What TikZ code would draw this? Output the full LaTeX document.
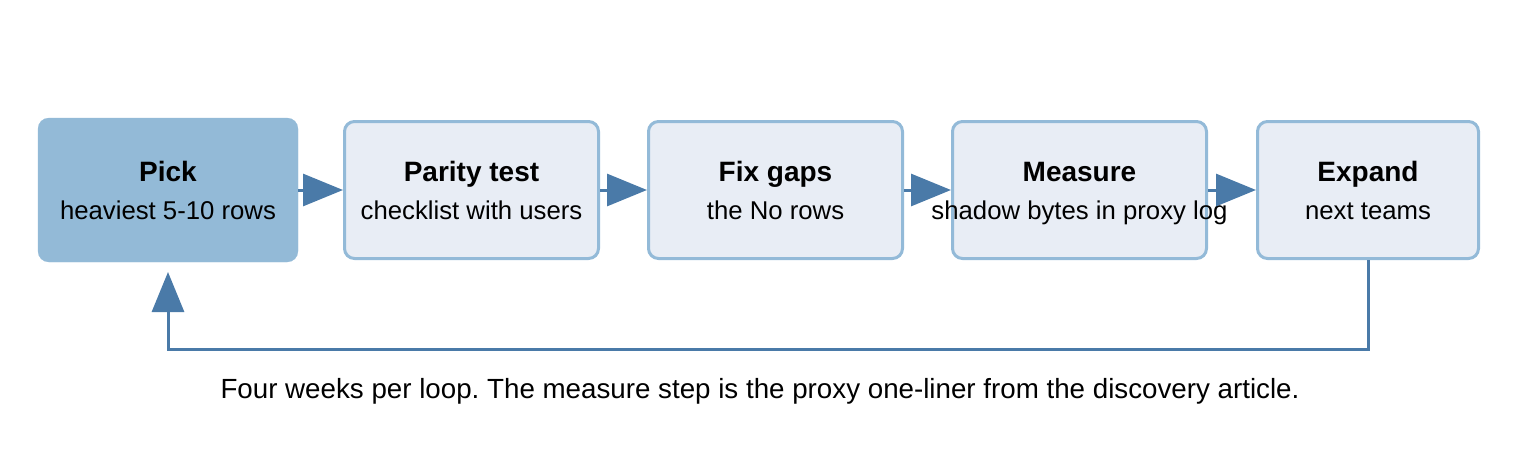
\documentclass[tikz,border=0pt]{standalone}
\usepackage{fontspec}
\setmainfont{Liberation Sans}
\usetikzlibrary{arrows.meta}
\frenchspacing
\definecolor{boxborder}{HTML}{93BAD8}
\definecolor{boxfill}{HTML}{E8EDF5}
\definecolor{pickfill}{HTML}{93BAD7}
\definecolor{arrowc}{HTML}{4A7AA8}
\tikzset{
  stepbox/.style={draw=boxborder, fill=boxfill, line width=2.25pt, rounded corners=7.5pt, minimum height=102.75pt, inner sep=0pt},
  pickbox/.style={fill=pickfill, draw=pickfill, line width=0.1pt, rounded corners=8pt, minimum width=195pt, minimum height=108pt, inner sep=0pt},
  ttl/.style={font=\fontsize{21}{24}\selectfont\bfseries, inner sep=0pt, anchor=base},
  sub/.style={font=\fontsize{19.3}{22}\selectfont, inner sep=0pt, anchor=base},
  captxt/.style={font=\fontsize{20.8}{24}\selectfont, inner sep=0pt, anchor=base},
  flow/.style={draw=arrowc, line width=2.25pt, -{Triangle[length=30pt,width=24pt]}}
}
\begin{document}
\begin{tikzpicture}[x=0.75pt,y=-0.75pt]
\useasboundingbox (0,0) rectangle (1520,460);
\node[pickbox] (pick) at (168,190) {};
\node[stepbox, minimum width=190.5pt] (parity) at (471.5,190) {};
\node[stepbox, minimum width=190.5pt] (fix) at (775.5,190) {};
\node[stepbox, minimum width=190.5pt] (measure) at (1079.5,190) {};
\node[stepbox, minimum width=165.75pt] (expand) at (1368,190) {};
\foreach \n/\t/\s in {pick/Pick/heaviest 5-10 rows, parity/Parity test/checklist with users, fix/Fix gaps/the No rows, measure/Measure/shadow bytes in proxy log, expand/Expand/next teams}{
  \node[ttl] (\n-t) at ([yshift=6.75pt]\n.center) {\t};
  \node[sub] (\n-s) at ([yshift=-22pt]\n.center) {\s};
}
\draw[flow] (pick.east) -- (parity.west);
\draw[flow] (parity.east) -- (fix.west);
\draw[flow] (fix.east) -- (measure.west);
\draw[flow] (measure.east) -- (expand.west);
\coordinate (c1) at (1368,349);
\coordinate (c2) at (168,349);
\coordinate (tip) at (168,272);
\draw[flow] (expand.south) -- (c1) -- (c2) -- (tip);
\node[captxt] (cap) at (760,398) {Four weeks per loop. The measure step is the proxy one-liner from the discovery article.};
\end{tikzpicture}
\end{document}
